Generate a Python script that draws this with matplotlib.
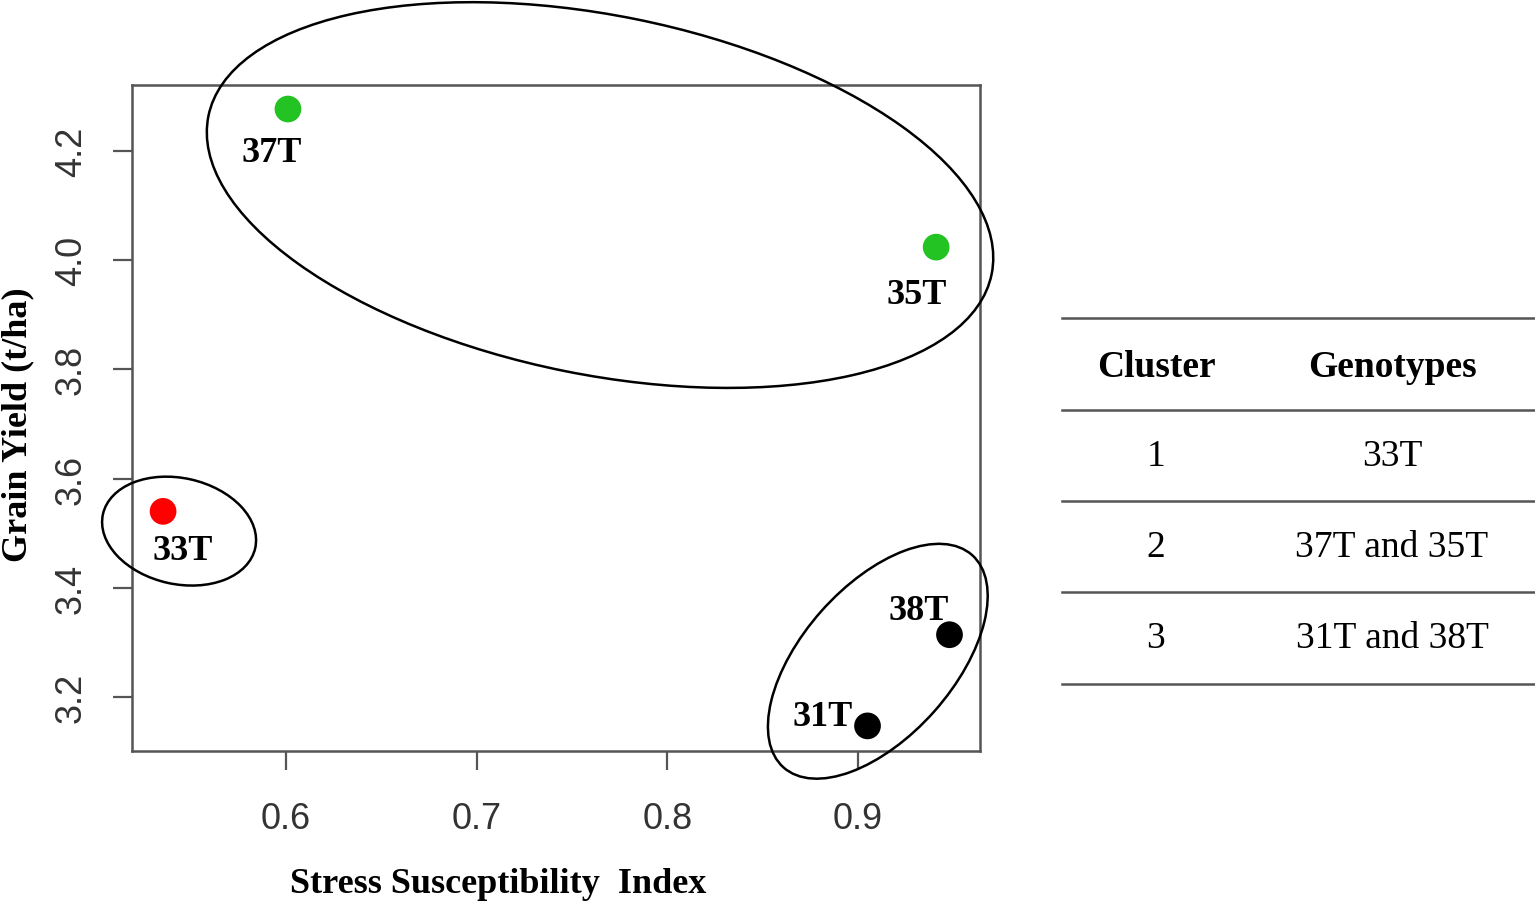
import matplotlib
matplotlib.use('Agg')
import matplotlib.pyplot as plt
from matplotlib.patches import Ellipse
from matplotlib.lines import Line2D
from matplotlib.transforms import ScaledTranslation

# genotype data
genotypes = ['37T', '35T', '33T', '38T', '31T']
ssi = [0.601, 0.941, 0.5355, 0.948, 0.905]
grain_yield = [4.277, 4.024, 3.540, 3.314, 3.147]
point_colors = ['#22c322', '#22c322', '#ff0000', '#000000', '#000000']
# label offsets in pixels from the point
label_offsets = [(-16, -43), (-19, -47), (20, -39), (-31, 24), (-45, 9)]

# cluster ellipses: centre (data), width/height in pixels, angle
ell_centers = [(0.7647, 4.1194), (0.5439, 3.5038), (0.9104, 3.2654)]
ell_sizes = [(799, 359), (156, 106), (284, 151)]
ell_angles = [-11.4, -12.6, 48.4]

# table
cluster_ids = ['1', '2', '3']
cluster_members = ['33T', '37T and 35T', '31T and 38T']

W, H = 1535, 904
fig = plt.figure(figsize=(W / 100, H / 100), dpi=100)
ax = fig.add_axes([132 / W, 1 - 752 / H, (980 - 132) / W, (752 - 86) / H])

ax.scatter(ssi, grain_yield, s=370, c=point_colors, zorder=3, linewidths=0)
for name, x, y, (dx, dy) in zip(genotypes, ssi, grain_yield, label_offsets):
    ax.annotate(name, (x, y), xytext=(dx, dy), textcoords='offset pixels',
                ha='center', va='center', fontsize=26, fontweight='bold',
                family='Liberation Serif', color='black')

for (cx, cy), (w, h), ang in zip(ell_centers, ell_sizes, ell_angles):
    e = Ellipse((0, 0), w, h, angle=ang, fill=False, edgecolor='black',
                linewidth=1.8, transform=ScaledTranslation(cx, cy, ax.transData),
                clip_on=False, zorder=4)
    ax.add_artist(e)

ax.set_xlim(0.5192, 0.964)
ax.set_ylim(3.101, 4.321)
ax.set_xticks([0.6, 0.7, 0.8, 0.9])
ax.set_yticks([3.2, 3.4, 3.6, 3.8, 4.0, 4.2])
ax.set_xticklabels(['0.6', '0.7', '0.8', '0.9'])
ax.set_yticklabels(['3.2', '3.4', '3.6', '3.8', '4.0', '4.2'], rotation=90, va='center')
ax.tick_params(length=14, width=1.6, color='#555555', labelsize=26,
               labelcolor='#333333')
ax.tick_params(axis='x', pad=22)
ax.tick_params(axis='y', pad=17)
for lab in ax.get_xticklabels() + ax.get_yticklabels():
    lab.set_family('Liberation Sans')
for sp in ax.spines.values():
    sp.set_color('#555555')
    sp.set_linewidth(1.8)

fig.text(498 / W, 1 - 885 / H, 'Stress Susceptibility  Index', ha='center', va='center',
         fontsize=26, fontweight='bold', family='Liberation Serif')
fig.text(18 / W, 1 - 425 / H, 'Grain Yield (t/ha)', ha='center', va='center',
         rotation=90, fontsize=26, fontweight='bold', family='Liberation Serif')

# table on the right
line_ys = [319, 411, 502, 593, 685]
for ly in line_ys:
    fig.add_artist(Line2D([1062 / W, 1.0], [1 - ly / H, 1 - ly / H],
                          color='#555555', linewidth=1.8))
col_x = [1156 / W, 1392 / W]
fig.text(col_x[0], 1 - 368 / H, 'Cluster', ha='center', va='center', fontsize=27,
         fontweight='bold', family='Liberation Serif')
fig.text(col_x[1], 1 - 368 / H, 'Genotypes', ha='center', va='center', fontsize=27,
         fontweight='bold', family='Liberation Serif')
for i, (cid, mem) in enumerate(zip(cluster_ids, cluster_members)):
    ty = 1 - (line_ys[i + 1] + line_ys[i + 2]) / 2 / H
    fig.text(col_x[0], ty, cid, ha='center', va='center', fontsize=27,
             family='Liberation Serif')
    fig.text(col_x[1], ty, mem, ha='center', va='center', fontsize=27,
             family='Liberation Serif')

fig.savefig('out.png', dpi=100)
